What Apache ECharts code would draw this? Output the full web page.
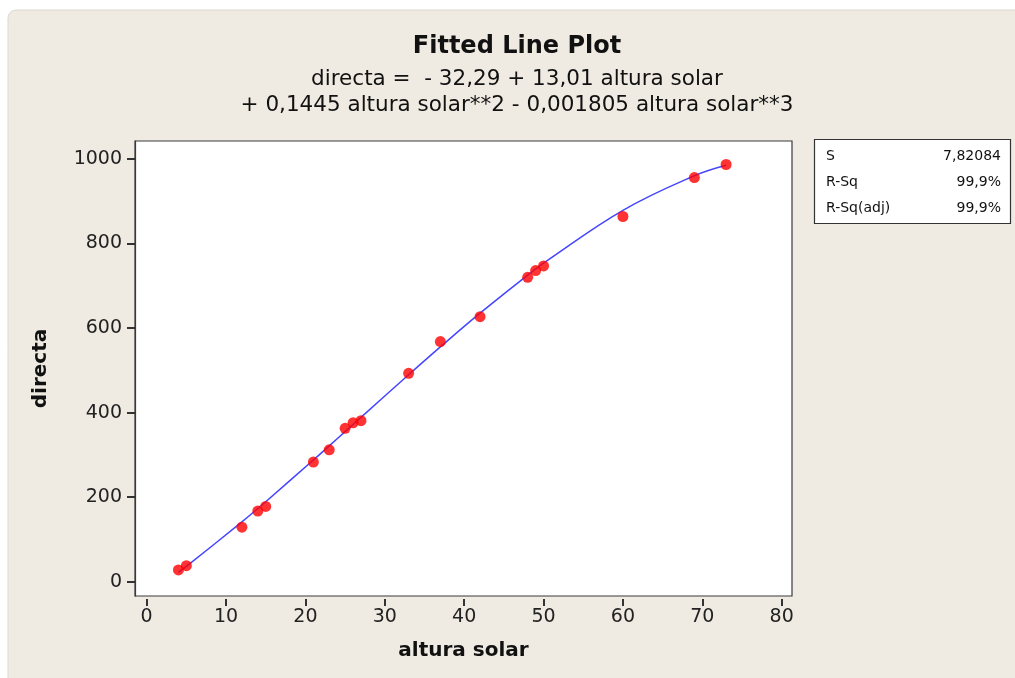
<!DOCTYPE html>
<html>
<head>
<meta charset="utf-8">
<script src="https://cdn.jsdelivr.net/npm/echarts@6/dist/echarts.min.js"></script>
<style>
html,body{margin:0;padding:0;background:#ffffff;}
#chart{width:1015px;height:678px;}
</style>
</head>
<body>
<div id="chart"></div>
<script>
// ---- data ----
const alturaSolar = [4, 5, 12, 14, 15, 21, 23, 25, 26, 27, 33, 37, 42, 48, 49, 50, 60, 69, 73];
const directa     = [28, 38, 129, 167, 178, 283, 312, 363, 376, 381, 493, 568, 627, 720, 736, 747, 864, 956, 987];
// regression coefficients shown in the title (b0, b1, b2, b3)
const coef = [-32.29, 13.01, 0.1445, -0.001805];
const xTicks = [0, 10, 20, 30, 40, 50, 60, 70, 80];
const yTicks = [0, 200, 400, 600, 800, 1000];
const statLabels = ['S', 'R-Sq', 'R-Sq(adj)'];
const statValues = ['7,82084', '99,9%', '99,9%'];
const titleText = 'Fitted Line Plot';
const eqLine1 = 'directa =  - 32,29 + 13,01 altura solar';
const eqLine2 = '+ 0,1445 altura solar**2 - 0,001805 altura solar**3';

const fitted = alturaSolar.map(x => [x, coef[0] + coef[1]*x + coef[2]*x*x + coef[3]*x*x*x]);
const points = alturaSolar.map((x, i) => [x, directa[i]]);

const FONT = "Tahoma, 'DejaVu Sans', sans-serif";
const PANEL = '#EFEBE2';
const chart = echarts.init(document.getElementById('chart'));

const statGraphics = [];
statLabels.forEach((lab, i) => {
  statGraphics.push({type:'text', x:826, y:156 + i*26,
    style:{text:lab, font:"14px " + FONT, fill:'#111', textVerticalAlign:'middle'}});
  statGraphics.push({type:'text', x:1001, y:156 + i*26,
    style:{text:statValues[i], font:"14px " + FONT, fill:'#111', textAlign:'right', textVerticalAlign:'middle'}});
});

chart.setOption({
  backgroundColor: 'transparent',
  animation: false,
  graphic: [
    {type:'rect', z:-10, shape:{x:8, y:10, width:1020, height:680, r:8},
     style:{fill:PANEL, stroke:'#dcd8cf', lineWidth:1}},
    {type:'text', x:517, y:47, style:{text:titleText, font:"bold 24px " + FONT, fill:'#111', textAlign:'center', textVerticalAlign:'middle'}},
    {type:'text', x:517, y:79, style:{text:eqLine1, font:"21.5px " + FONT, fill:'#111', textAlign:'center', textVerticalAlign:'middle'}},
    {type:'text', x:517, y:105, style:{text:eqLine2, font:"21.5px " + FONT, fill:'#111', textAlign:'center', textVerticalAlign:'middle'}},
    {type:'rect', shape:{x:814.5, y:139.5, width:196, height:84},
     style:{fill:'#ffffff', stroke:'#333', lineWidth:1.2}},
    ...statGraphics
  ],
  grid: {left:135, top:141, right:223, bottom:82, show:true,
         backgroundColor:'#ffffff', borderColor:'#3a3a3a', borderWidth:1.2},
  xAxis: {
    type:'value', min:-1.47, max:81.3, offset:3,
    name:'altura solar', nameLocation:'middle', nameGap:42,
    nameTextStyle:{fontFamily:FONT, fontWeight:'bold', fontSize:20, color:'#111'},
    axisLine:{show:true, onZero:false, lineStyle:{color:PANEL, width:1}},
    axisTick:{show:true, length:7, customValues:xTicks, lineStyle:{color:'#333', width:2}},
    axisLabel:{customValues:xTicks, margin:9, fontFamily:FONT, fontSize:19, color:'#222'},
    splitLine:{show:false}
  },
  yAxis: {
    type:'value', min:-33.8, max:1042.6,
    name:'directa', nameLocation:'middle', nameGap:84, nameRotate:90,
    nameTextStyle:{fontFamily:FONT, fontWeight:'bold', fontSize:20, color:'#111'},
    axisLine:{show:true, onZero:false, lineStyle:{color:'#3a3a3a', width:1.2}},
    axisTick:{show:true, length:8, customValues:yTicks, lineStyle:{color:'#333', width:2}},
    axisLabel:{customValues:yTicks, margin:13, fontFamily:FONT, fontSize:19, color:'#222',
               formatter: v => String(v)},
    splitLine:{show:false}
  },
  series: [
    {type:'line', data:fitted, smooth:0.4, symbol:'none',
     lineStyle:{color:'#4545ff', width:1.5}, z:2},
    {type:'scatter', data:points, symbol:'circle', symbolSize:11,
     itemStyle:{color:'#ff0000'}, z:3}
  ]
});
</script>
</body>
</html>
